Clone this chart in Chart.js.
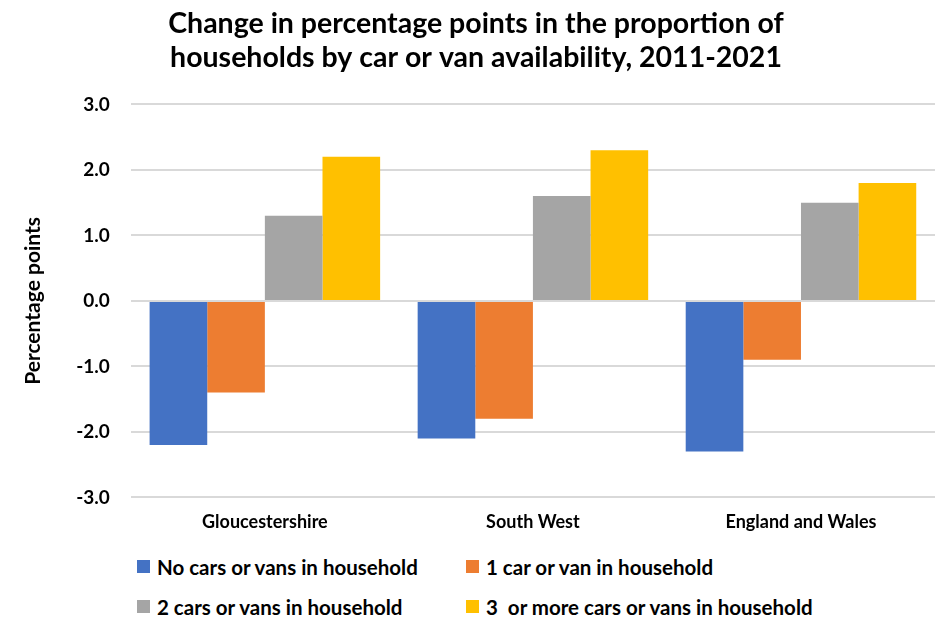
<!DOCTYPE html>
<html>
<head>
<meta charset="utf-8">
<script src="https://cdn.jsdelivr.net/npm/chart.js@4"></script>
<style>
  body { margin: 0; background: #fff; }
  #wrap { position: relative; width: 942px; height: 618px; }
  #chart { position: absolute; left: 0; top: 0; }
  #legend {
    position: absolute; left: 137px; top: 555px;
    display: grid; grid-template-columns: 329px 400px; row-gap: 17px;
    font-family: Lato, sans-serif; font-weight: bold; font-size: 20.5px; color: #000;
  }
  #legend div { display: flex; align-items: center; height: 23px; white-space: pre; }
  #legend span.box { width: 13px; height: 13px; margin-right: 7px; display: inline-block; }
</style>
</head>
<body>
<div id="wrap">
  <canvas id="chart" width="942" height="539"></canvas>
  <div id="legend"></div>
</div>
<script>
const categories = ['Gloucestershire', 'South West', 'England and Wales'];
const seriesNames = [
  'No cars or vans in household',
  '1 car or van in household',
  '2 cars or vans in household',
  '3  or more cars or vans in household'
];
const noCars = [-2.2, -2.1, -2.3];
const oneCar = [-1.4, -1.8, -0.9];
const twoCars = [1.3, 1.6, 1.5];
const threePlus = [2.2, 2.3, 1.8];
const colors = ['#4472c4', '#ed7d31', '#a5a5a5', '#ffc000'];

const values = [noCars, oneCar, twoCars, threePlus];

const chart = new Chart(document.getElementById('chart'), {
  type: 'bar',
  data: {
    labels: categories,
    datasets: seriesNames.map((name, i) => ({
      label: name,
      data: values[i],
      backgroundColor: colors[i],
      categoryPercentage: 0.86,
      barPercentage: 1.0
    }))
  },
  options: {
    responsive: false,
    animation: false,
    layout: { padding: { left: 17, right: 7, top: 7, bottom: 0 } },
    plugins: {
      legend: { display: false },
      tooltip: { enabled: false },
      title: {
        display: true,
        text: ['Change in percentage points in the proportion of', 'households by car or van availability, 2011-2021'],
        color: '#000',
        font: { family: 'Lato', size: 28.5, weight: 'bold' },
        lineHeight: 1.2,
        padding: { top: 0, bottom: 29 }
      }
    },
    scales: {
      x: {
        grid: { display: false },
        border: { display: false },
        ticks: {
          color: '#000',
          font: { family: 'Lato', size: 18, weight: 'bold' },
          padding: 6
        }
      },
      y: {
        min: -3, max: 3,
        ticks: {
          stepSize: 1,
          color: '#000',
          font: { family: 'Lato', size: 19, weight: 'bold' },
          padding: 21,
          callback: v => v.toFixed(1)
        },
        grid: { color: '#d9d9d9', lineWidth: 2, drawTicks: false },
        border: { display: false },
        title: {
          display: true,
          text: 'Percentage points',
          color: '#000',
          font: { family: 'Lato', size: 21, weight: 'bold' },
          padding: { bottom: 9 }
        }
      }
    }
  }
});

const legend = document.getElementById('legend');
chart.data.datasets.forEach(ds => {
  const item = document.createElement('div');
  item.innerHTML = '<span class="box" style="background:' + ds.backgroundColor + '"></span>' + ds.label;
  legend.appendChild(item);
});
</script>
</body>
</html>
